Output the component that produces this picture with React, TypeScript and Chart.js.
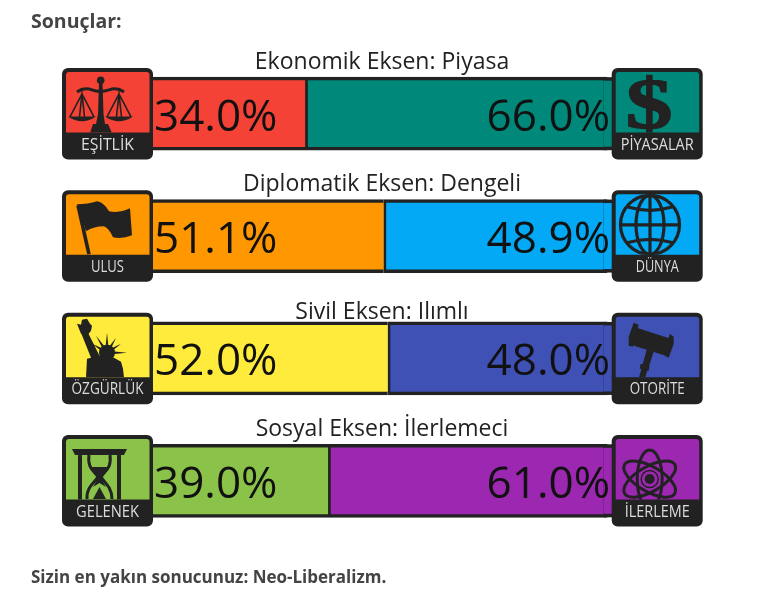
import React, { useEffect, useRef } from "react";
import { Chart, registerables } from "chart.js";

Chart.register(...registerables);

const heading = "Sonuçlar:";
const footer = "Sizin en yakın sonucunuz: Neo-Liberalizm.";
const axisTitles = ["Ekonomik Eksen: Piyasa", "Diplomatik Eksen: Dengeli", "Sivil Eksen: Ilımlı", "Sosyal Eksen: İlerlemeci"];
const leftValues = [34.0, 51.1, 52.0, 39.0];
const rightValues = [66.0, 48.9, 48.0, 61.0];
const leftColors = ["#f44336", "#ff9800", "#ffeb3b", "#8bc34a"];
const rightColors = ["#00897b", "#03a9f4", "#3f51b5", "#9c27b0"];
const leftLabels = ["EŞİTLİK", "ULUS", "ÖZGÜRLÜK", "GELENEK"];
const rightLabels = ["PİYASALAR", "DÜNYA", "OTORİTE", "İLERLEME"];
const leftLabelWidths = [53, 33, 72, 63];
const rightLabelWidths = [73, 43, 55, 65];
const titleShifts = [0, 0, 6, 0];

const DARK = "#222222";
const FONT = '"Open Sans", "Noto Sans", sans-serif';
type Ctx = CanvasRenderingContext2D;

function poly(c: Ctx, pts: number[][]) {
  c.beginPath();
  pts.forEach((p, i) => (i ? c.lineTo(p[0], p[1]) : c.moveTo(p[0], p[1])));
  c.closePath();
  c.fill();
}

function scales(c: Ctx) {
  c.beginPath(); c.arc(38.7, 12.3, 3.8, 0, 7); c.fill();
  poly(c, [[37, 14], [40.5, 14], [41.5, 46], [43, 56], [46, 56], [50, 65], [28, 65], [31, 56], [34, 56], [36, 46]]);
  c.lineWidth = 3;
  c.beginPath(); c.moveTo(15, 24); c.quadraticCurveTo(22, 19, 30, 22); c.quadraticCurveTo(38, 25, 47, 22); c.quadraticCurveTo(55, 19, 62, 24); c.stroke();
  c.lineWidth = 1.6;
  for (const [ax, l, r] of [[20, 8, 32], [57, 45, 69]]) {
    c.beginPath(); c.moveTo(l, 49); c.lineTo(ax, 26); c.lineTo(r, 49); c.moveTo(ax - 2.5, 49); c.lineTo(ax, 26); c.lineTo(ax + 2.5, 49); c.stroke();
    c.beginPath(); c.moveTo(l - 2, 48.5); c.lineTo(r + 2, 48.5); c.quadraticCurveTo(ax, 58, l - 2, 48.5); c.fill();
  }
}

function dollar(c: Ctx) {
  c.save();
  c.translate(37.5, 60);
  c.scale(1.3, 1.0);
  c.font = 'bold 72px "Liberation Serif", serif';
  c.textAlign = "center";
  c.textBaseline = "alphabetic";
  c.lineWidth = 1.5;
  c.fillText("$", 0, 0);
  c.strokeText("$", 0, 0);
  c.restore();
}

function flag(c: Ctx) {
  c.lineWidth = 3.6;
  c.beginPath(); c.moveTo(16, 15); c.lineTo(27, 64); c.stroke();
  c.beginPath();
  c.moveTo(15, 14);
  c.quadraticCurveTo(26, 14, 35, 11);
  c.quadraticCurveTo(42, 12, 47, 21);
  c.quadraticCurveTo(58, 23, 68, 18);
  c.lineTo(70, 45);
  c.quadraticCurveTo(60, 49, 51, 47);
  c.quadraticCurveTo(47, 38, 42, 36);
  c.quadraticCurveTo(32, 36, 24, 41);
  c.closePath();
  c.fill();
}

function globe(c: Ctx) {
  c.lineWidth = 3.2;
  const cx = 38.3, cy = 34.5, r = 29.5;
  c.beginPath(); c.arc(cx, cy, r, 0, 7); c.stroke();
  c.beginPath(); c.ellipse(cx, cy, 14, r, 0, 0, 7); c.stroke();
  c.beginPath(); c.moveTo(cx, cy - r); c.lineTo(cx, cy + r); c.stroke();
  c.beginPath(); c.moveTo(cx - r, cy); c.lineTo(cx + r, cy); c.stroke();
  c.beginPath(); c.moveTo(cx - 23, cy - 18); c.quadraticCurveTo(cx, cy - 11, cx + 23, cy - 18); c.stroke();
  c.beginPath(); c.moveTo(cx - 23, cy + 18); c.quadraticCurveTo(cx, cy + 11, cx + 23, cy + 18); c.stroke();
}

function statue(c: Ctx) {
  poly(c, [[15, 11], [19, 12], [20, 7], [25, 6], [28, 11], [30, 13], [29, 18], [26, 22], [19, 21]]);
  poly(c, [[19, 20], [26, 20], [38, 44], [31, 50]]);
  c.beginPath(); c.arc(45, 40, 8, 0, 7); c.fill();
  poly(c, [[25, 46], [38, 43], [52, 45], [59, 49], [61, 56], [62, 65], [24, 65]]);
  for (const [x, y] of [[34, 23], [45, 20], [54, 25], [59, 31], [30, 31], [65, 40]]) {
    const dx = x - 45, dy = y - 40, l = Math.hypot(dx, dy);
    const px = (-dy / l) * 2, py = (dx / l) * 2;
    poly(c, [[x, y], [45 + px, 40 + py], [45 - px, 40 - py]]);
  }
}

function gavel(c: Ctx) {
  poly(c, [[25, 15], [59, 26], [54, 43], [19, 32]]);
  poly(c, [[22, 10], [27, 12], [21, 34], [17, 33], [17, 24]]);
  poly(c, [[58, 21], [62, 24], [62, 31], [57, 45], [53, 43]]);
  poly(c, [[35, 37], [42, 39], [33, 66], [27, 66]]);
  poly(c, [[29, 51], [38, 53], [37, 58], [28, 56]]);
}

function hourglass(c: Ctx) {
  poly(c, [[10, 14], [65, 14], [62, 20], [13, 20]]);
  c.fillRect(16, 20, 4, 45);
  c.fillRect(55, 20, 4, 45);
  c.lineWidth = 3;
  c.beginPath();
  c.moveTo(27, 20); c.bezierCurveTo(25, 34, 33, 36, 36, 42); c.bezierCurveTo(33, 47, 24, 52, 25, 64);
  c.moveTo(48, 20); c.bezierCurveTo(50, 34, 42, 36, 39, 42); c.bezierCurveTo(42, 47, 50, 52, 50, 64);
  c.stroke();
  poly(c, [[30, 32], [45, 32], [39, 43], [44, 52], [37.5, 48], [31, 52], [36, 43]]);
  poly(c, [[31, 64], [37.5, 52], [44, 64]]);
}

function atom(c: Ctx) {
  c.lineWidth = 3;
  const cx = 38, cy = 44;
  for (const a of [Math.PI / 2, Math.PI / 6, -Math.PI / 6]) {
    c.beginPath(); c.ellipse(cx, cy, 29, 12.5, a, 0, 7); c.stroke();
  }
  c.lineWidth = 1.5;
  c.beginPath(); c.arc(cx, cy, 8.5, 0, 7); c.stroke();
  c.beginPath(); c.arc(cx, cy, 5, 0, 7); c.fill();
}

const leftGlyphs = [scales, flag, statue, hourglass];
const rightGlyphs = [dollar, globe, gavel, atom];

function panel(c: Ctx, x: number, y: number, color: string, label: string, labelWidth: number, glyph: (c: Ctx) => void) {
  c.save();
  c.fillStyle = DARK;
  c.beginPath(); c.roundRect(x, y, 91, 91.5, 6); c.fill();
  c.fillStyle = color;
  c.beginPath(); c.roundRect(x + 4, y + 4, 83.5, 60.5, [3, 3, 0, 0]); c.fill();
  c.save();
  c.translate(x, y);
  c.beginPath(); c.rect(4, 4, 83.5, 60.5); c.clip();
  c.fillStyle = DARK;
  c.strokeStyle = DARK;
  c.lineCap = "butt";
  glyph(c);
  c.restore();
  c.fillStyle = "#dddddd";
  c.font = `16px ${FONT}`;
  c.textAlign = "center";
  c.textBaseline = "middle";
  c.fillText(label, x + 45.5, y + 77, labelWidth);
  c.restore();
}

const decorations = {
  id: "decorations",
  afterDatasetsDraw(chart: any) {
    const c: Ctx = chart.ctx;
    const xs = chart.scales.x;
    const ys = chart.scales.y;
    const x0 = xs.getPixelForValue(0);
    const x100 = xs.getPixelForValue(100);
    axisTitles.forEach((title, i) => {
      const yc = ys.getPixelForValue(i);
      c.save();
      // the track runs on under the right-hand badge
      c.fillStyle = DARK;
      c.fillRect(x100 - 4, yc - 36.5, 10, 73);
      c.fillStyle = rightColors[i];
      c.fillRect(x100 - 4, yc - 33, 10, 66);

      c.fillStyle = "#111111";
      c.font = `44px ${FONT}`;
      c.textBaseline = "alphabetic";
      c.textAlign = "left";
      c.fillText(`${leftValues[i].toFixed(1)}%`, x0 + 4.5, yc + 17);
      c.textAlign = "right";
      c.fillText(`${rightValues[i].toFixed(1)}%`, x100 + 2.5, yc + 17);

      c.fillStyle = "#222222";
      c.font = `23px ${FONT}`;
      c.textAlign = "center";
      c.fillText(title, 382, yc - 45 + titleShifts[i]);
      c.restore();

      panel(c, 62, yc - 45.75, leftColors[i], leftLabels[i], leftLabelWidths[i], leftGlyphs[i]);
      panel(c, 611.7, yc - 45.75, rightColors[i], rightLabels[i], rightLabelWidths[i], rightGlyphs[i]);
    });
  },
};

export default function App() {
  const ref = useRef<HTMLCanvasElement>(null);
  useEffect(() => {
    const chart = new Chart(ref.current!, {
      type: "bar",
      data: {
        labels: axisTitles,
        datasets: [
          {
            label: "Sol",
            data: leftValues,
            backgroundColor: leftColors,
            borderColor: DARK,
            borderWidth: { top: 3.5, bottom: 3.5, left: 0, right: 0 },
            borderSkipped: false,
            barThickness: 73,
          },
          {
            label: "Sağ",
            data: rightValues,
            backgroundColor: rightColors,
            borderColor: DARK,
            borderWidth: { top: 3.5, bottom: 3.5, left: 3, right: 0 },
            borderSkipped: false,
            barThickness: 73,
          },
        ],
      },
      options: {
        indexAxis: "y",
        responsive: false,
        animation: false,
        layout: { padding: { left: 149.5, right: 151.5, top: 52.5, bottom: 58 } },
        plugins: { legend: { display: false }, tooltip: { enabled: false }, title: { display: false } },
        scales: {
          x: { display: false, stacked: true, min: 0, max: 100 },
          y: { display: false, stacked: true },
        },
      },
      plugins: [decorations],
    } as any);
    return () => chart.destroy();
  }, []);
  const textStyle: React.CSSProperties = {
    position: "absolute",
    left: 31,
    fontFamily: FONT,
    fontWeight: 700,
    color: "#444444",
    whiteSpace: "nowrap",
    margin: 0,
  };
  return (
    <div style={{ position: "absolute", left: 0, top: 0, width: 759, height: 600, overflow: "hidden", background: "#fff" }}>
      <canvas ref={ref} width={759} height={600} style={{ position: "absolute", left: 0, top: 0 }} />
      <div style={{ ...textStyle, top: 9, fontSize: 19.5, lineHeight: "24px" }}>{heading}</div>
      <div style={{ ...textStyle, top: 566, fontSize: 17, lineHeight: "22px" }}>{footer}</div>
    </div>
  );
}
